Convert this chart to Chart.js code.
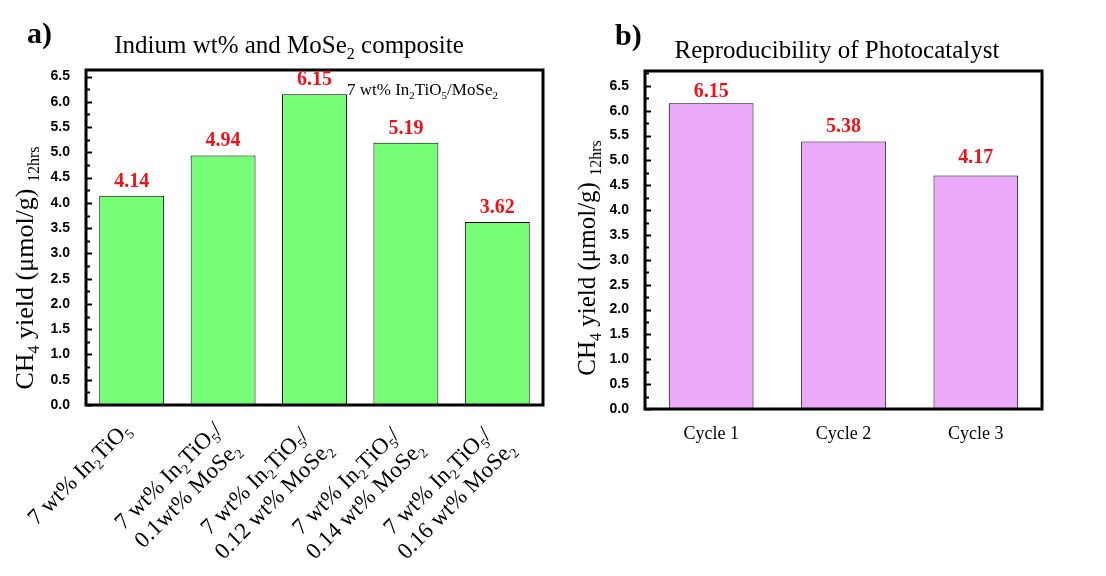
<!DOCTYPE html>
<html>
<head>
<meta charset="utf-8">
<script src="https://cdn.jsdelivr.net/npm/chart.js@4.4.0/dist/chart.umd.min.js"></script>
<style>
  body { margin: 0; background: #fff; width: 1106px; height: 576px; overflow: hidden; position: relative; }
  .panel { position: absolute; top: 0; height: 576px; }
  #pa { left: 0; width: 560px; }
  #pb { left: 560px; width: 546px; }
</style>
</head>
<body>
<div class="panel" id="pa"><canvas id="chartA"></canvas></div>
<div class="panel" id="pb"><canvas id="chartB"></canvas></div>
<script>
// ===== DATA =====
// "_2" means a subscript 2
const compositeLines = [
  ['7 wt% In_2TiO_5'],
  ['7 wt% In_2TiO_5/', '0.1wt% MoSe_2'],
  ['7 wt% In_2TiO_5/', '0.12 wt% MoSe_2'],
  ['7 wt% In_2TiO_5/', '0.14 wt% MoSe_2'],
  ['7 wt% In_2TiO_5/', '0.16 wt% MoSe_2']
];
const compositeYield = [4.14, 4.94, 6.15, 5.19, 3.62];
const compositeValueText = ['4.14', '4.94', '6.15', '5.19', '3.62'];

const cycleLabels = ['Cycle 1', 'Cycle 2', 'Cycle 3'];
const cycleYield = [6.15, 5.38, 4.70];
const cycleValueText = ['6.15', '5.38', '4.17'];

const yTicks = [0, 0.5, 1, 1.5, 2, 2.5, 3, 3.5, 4, 4.5, 5, 5.5, 6, 6.5];
const yTickStep = 0.5;
const yMinorStep = 0.25;

const SERIF = '"Liberation Serif", "Times New Roman", serif';
const SANS = '"Liberation Sans", Arial, sans-serif';
const RED = '#e8141c';

// ===== rich text helpers (subscripts) =====
function parseRich(str) {
  const out = [];
  let buf = '';
  for (let i = 0; i < str.length; i++) {
    if (str[i] === '_' && i + 1 < str.length) {
      if (buf) out.push({ t: buf, sub: false });
      buf = '';
      out.push({ t: str[i + 1], sub: true });
      i++;
    } else buf += str[i];
  }
  if (buf) out.push({ t: buf, sub: false });
  return out;
}

function richFont(seg, size, bold, subScale) {
  const s = seg.sub ? Math.round(size * subScale) : size;
  return (bold ? 'bold ' : '') + s + 'px ' + SERIF;
}

function richWidth(ctx, str, size, bold, subScale = 0.62) {
  let w = 0;
  parseRich(str).forEach(seg => {
    ctx.font = richFont(seg, size, bold, subScale);
    w += ctx.measureText(seg.t).width;
  });
  return w;
}

// draws with left end at x, baseline at y
function drawRich(ctx, str, x, y, size, bold, subScale = 0.62) {
  ctx.textAlign = 'left';
  ctx.textBaseline = 'alphabetic';
  parseRich(str).forEach(seg => {
    ctx.font = richFont(seg, size, bold, subScale);
    ctx.fillText(seg.t, x, y + (seg.sub ? size * 0.22 : 0));
    x += ctx.measureText(seg.t).width;
  });
}

// ===== frame, ticks, titles plugin =====
function panelPlugin(cfg) {
  return {
    id: 'panel',
    afterDatasetsDraw(chart) {
      const ctx = chart.ctx;
      const area = chart.chartArea;
      const y = chart.scales.y;
      ctx.save();
      ctx.fillStyle = '#000';
      ctx.strokeStyle = '#000';

      // inward tick marks on left axis
      ctx.lineWidth = 2;
      for (let v = 0; v <= y.max + 1e-9; v += yMinorStep) {
        const py = Math.round(y.getPixelForValue(v)) + 0.5;
        const major = Math.abs(v / yTickStep - Math.round(v / yTickStep)) < 1e-6;
        ctx.beginPath();
        ctx.moveTo(area.left, py);
        ctx.lineTo(area.left + (major ? 6 : 4), py);
        ctx.stroke();
      }

      // frame
      ctx.lineWidth = 3;
      ctx.strokeRect(area.left, area.top, area.right - area.left, area.bottom - area.top);

      // value labels
      const meta = chart.getDatasetMeta(0);
      ctx.fillStyle = RED;
      ctx.font = 'bold 20px ' + SERIF;
      ctx.textAlign = 'center';
      ctx.textBaseline = 'alphabetic';
      meta.data.forEach((bar, i) => {
        ctx.fillText(cfg.valueText[i], bar.x, bar.y - cfg.valueGap[i]);
      });

      // panel letter
      ctx.fillStyle = '#000';
      ctx.font = 'bold 30px ' + SERIF;
      ctx.textAlign = 'left';
      ctx.fillText(cfg.letter, cfg.letterX, cfg.letterY);

      // title
      const tw = richWidth(ctx, cfg.title, cfg.titleSize, false);
      drawRich(ctx, cfg.title, cfg.titleX - tw / 2, cfg.titleY, cfg.titleSize, false);

      // y axis title (rotated)
      ctx.save();
      ctx.translate(cfg.yTitleX, cfg.yTitleY);
      ctx.rotate(-Math.PI / 2);
      const yw = richWidth(ctx, cfg.yTitle, cfg.yTitleSize, false);
      drawRich(ctx, cfg.yTitle, -yw / 2, 0, cfg.yTitleSize, false);
      ctx.restore();

      // annotation
      if (cfg.note) drawRich(ctx, cfg.note, cfg.noteX, cfg.noteY, 17, false, 0.65);

      // rotated category labels
      if (cfg.rotLabels) {
        const size = 23, lh = 27;
        cfg.rotLabels.forEach((lines, i) => {
          const bar = meta.data[i];
          const widths = lines.map(l => richWidth(ctx, l, size, false));
          const W = Math.max(...widths);
          ctx.save();
          ctx.translate(bar.x - 13, area.bottom + 13);
          ctx.rotate(-Math.PI / 4);
          lines.forEach((l, k) => {
            const right = -(W - widths[k]) / 2;
            drawRich(ctx, l, right - widths[k], size * 0.8 + k * lh, size, false);
          });
          ctx.restore();
        });
      }
      ctx.restore();
    }
  };
}

function setTicks(scale) {
  scale.ticks = yTicks.map(v => ({ value: v }));
}

function makeChart(id, labels, values, color, barPct, yMax, axisW, xH, pad, xTicks, cfg) {
  return new Chart(document.getElementById(id), {
    type: 'bar',
    data: {
      labels: labels,
      datasets: [{
        data: values,
        backgroundColor: color,
        borderColor: '#000',
        borderWidth: 1,
        categoryPercentage: 1,
        barPercentage: barPct
      }]
    },
    options: {
      responsive: true,
      maintainAspectRatio: false,
      animation: false,
      layout: { padding: pad },
      plugins: { legend: { display: false }, tooltip: { enabled: false } },
      scales: {
        x: {
          grid: { display: false },
          border: { display: false },
          ticks: xTicks,
          afterFit: s => { s.height = xH; }
        },
        y: {
          min: 0,
          max: yMax,
          grid: { display: false },
          border: { display: false },
          ticks: {
            padding: 8,
            color: '#000',
            font: { family: SANS, size: 14, weight: 'bold' },
            callback: v => Number(v).toFixed(1)
          },
          afterBuildTicks: setTicks,
          afterFit: s => { s.width = axisW; }
        }
      }
    },
    plugins: [panelPlugin(cfg)]
  });
}

makeChart('chartA',
  compositeLines.map(l => l.join(' ')),
  compositeYield, '#77ff77', 0.71, 6.63, 86, 171,
  { left: 0, top: 70, right: 17, bottom: 0 },
  { display: false },
  {
    valueText: compositeValueText,
    valueGap: [9, 9, 9, 9, 9],
    letter: 'a)', letterX: 27, letterY: 43,
    title: 'Indium wt% and MoSe_2 composite', titleSize: 25, titleX: 289, titleY: 53,
    yTitle: 'CH_4 yield (μmol/g) _1_2_h_r_s', yTitleSize: 26, yTitleX: 33, yTitleY: 268,
    note: '7 wt% In_2TiO_5/MoSe_2', noteX: 347, noteY: 95,
    rotLabels: compositeLines
  });

makeChart('chartB',
  cycleLabels, cycleYield, '#ebaafa', 0.64, 6.8, 85, 167,
  { left: 0, top: 71, right: 64, bottom: 0 },
  { display: true, color: '#000', padding: 6, font: { family: SERIF, size: 18 } },
  {
    valueText: cycleValueText,
    valueGap: [6, 10, 12],
    letter: 'b)', letterX: 55, letterY: 45,
    title: 'Reproducibility of Photocatalyst', titleSize: 25, titleX: 277, titleY: 58,
    yTitle: 'CH_4 yield (μmol/g) _1_2_h_r_s', yTitleSize: 25, yTitleX: 35, yTitleY: 258
  });
</script>
</body>
</html>
